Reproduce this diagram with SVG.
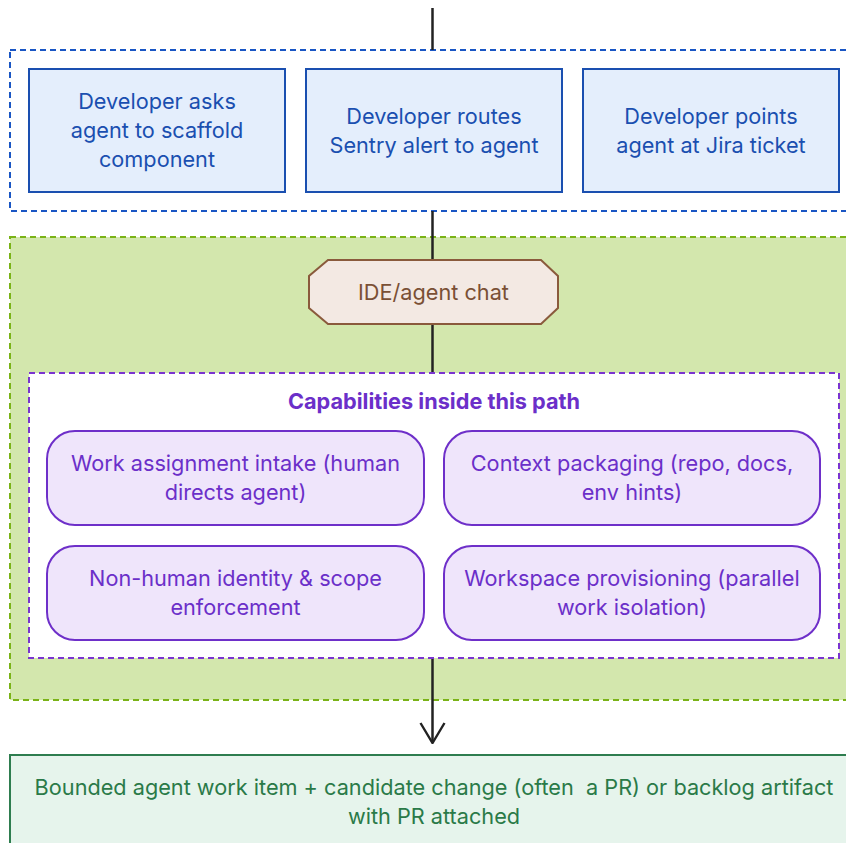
<svg xmlns="http://www.w3.org/2000/svg" width="846" height="843" viewBox="0 0 846 843">
  <defs>
    <marker id="arrow" viewBox="0 0 22 28" refX="21" refY="14" markerWidth="22" markerHeight="28" markerUnits="userSpaceOnUse" orient="auto">
      <path d="M1 2 L21 14 L1 26" fill="none" stroke="#222222" stroke-width="2.4"/>
    </marker>
    <style>
      text { font-family: Inter, "Noto Sans", "Liberation Sans", sans-serif; font-size: 21.7px; text-anchor: middle; }
      .grp-blue { fill: #ffffff; stroke: #1a56c4; stroke-width: 2; stroke-dasharray: 6 4; }
      .grp-green { fill: #d3e7ad; stroke: #7ab317; stroke-width: 2; stroke-dasharray: 6 4; }
      .grp-purple { fill: #ffffff; stroke: #7a35d0; stroke-width: 2; stroke-dasharray: 6 4; }
      .src { fill: #e4eefc; stroke: #1a4fb0; stroke-width: 2; }
      .src-t { fill: #1a4fb0; }
      .hub { fill: #f3e9e3; stroke: #8a5a3c; stroke-width: 2; }
      .hub-t { fill: #7a5035; }
      .cap { fill: #efe5fb; stroke: #6e2fc9; stroke-width: 2; }
      .cap-t { fill: #6b2fc9; }
      .title-t { fill: #6b2fc9; font-weight: 700; }
      .out { fill: #e6f4ec; stroke: #2e7d4f; stroke-width: 2; }
      .out-t { fill: #2a7a48; white-space: pre; }
      .edge { fill: none; stroke: #222222; stroke-width: 2.5; }
    </style>
  </defs>

  <!-- group containers -->
  <rect class="grp-blue" x="10" y="50" width="848" height="161"/>
  <rect class="grp-green" x="10" y="237" width="848" height="463"/>

  <!-- connectors -->
  <g id="connectors">
    <line class="edge" x1="432.5" y1="8" x2="432.5" y2="50"/>
    <line class="edge" x1="432.5" y1="211" x2="432.5" y2="260"/>
    <line class="edge" x1="432.5" y1="324" x2="432.5" y2="373"/>
    <line class="edge" x1="432.5" y1="658" x2="432.5" y2="743" marker-end="url(#arrow)"/>
  </g>

  <!-- triggers -->
  <g id="trigger-scaffold">
    <rect class="src" x="29" y="69" width="256" height="123"/>
    <text class="src-t" x="157" y="109">Developer asks</text>
    <text class="src-t" x="157" y="138">agent to scaffold</text>
    <text class="src-t" x="157" y="167">component</text>
  </g>
  <g id="trigger-sentry">
    <rect class="src" x="306" y="69" width="256" height="123"/>
    <text class="src-t" x="434" y="124">Developer routes</text>
    <text class="src-t" x="434" y="153">Sentry alert to agent</text>
  </g>
  <g id="trigger-jira">
    <rect class="src" x="583" y="69" width="256" height="123"/>
    <text class="src-t" x="711" y="124">Developer points</text>
    <text class="src-t" x="711" y="153">agent at Jira ticket</text>
  </g>

  <!-- entry point -->
  <g id="ide-chat">
    <polygon class="hub" points="328,260 541,260 558,276 558,308 541,324 328,324 309,308 309,276"/>
    <text class="hub-t" x="433.5" y="300">IDE/agent chat</text>
  </g>

  <!-- capabilities -->
  <g id="capabilities">
    <rect class="grp-purple" x="29" y="373" width="810" height="285"/>
    <text class="title-t" x="434" y="409">Capabilities inside this path</text>
  </g>
  <g id="cap-intake">
    <rect class="cap" x="47" y="431" width="377" height="94" rx="28"/>
    <text class="cap-t" x="235.5" y="471">Work assignment intake (human</text>
    <text class="cap-t" x="235.5" y="500">directs agent)</text>
  </g>
  <g id="cap-context">
    <rect class="cap" x="444" y="431" width="376" height="94" rx="28"/>
    <text class="cap-t" x="632" y="471">Context packaging (repo, docs,</text>
    <text class="cap-t" x="632" y="500">env hints)</text>
  </g>
  <g id="cap-identity">
    <rect class="cap" x="47" y="546" width="377" height="94" rx="28"/>
    <text class="cap-t" x="235.5" y="586">Non-human identity &amp; scope</text>
    <text class="cap-t" x="235.5" y="615">enforcement</text>
  </g>
  <g id="cap-workspace">
    <rect class="cap" x="444" y="546" width="376" height="94" rx="28"/>
    <text class="cap-t" x="632" y="586">Workspace provisioning (parallel</text>
    <text class="cap-t" x="632" y="615">work isolation)</text>
  </g>

  <!-- outcome -->
  <g id="outcome">
    <rect class="out" x="10" y="755" width="848" height="100"/>
    <text class="out-t" x="434" y="795">Bounded agent work item + candidate change (often  a PR) or backlog artifact</text>
    <text class="out-t" x="434" y="824">with PR attached</text>
  </g>
</svg>
